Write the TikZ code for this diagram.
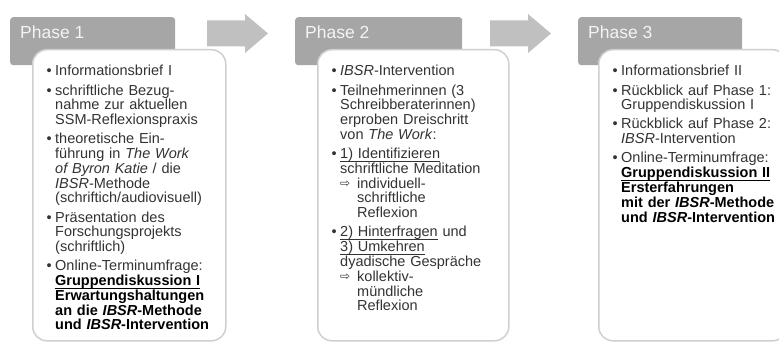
\documentclass[tikz,border=0pt]{standalone}
\usepackage{fontspec}
\setmainfont{Liberation Sans}
\newfontfamily\symbolfont{DejaVu Sans}

\definecolor{headgrey}{HTML}{A6A6A6}
\definecolor{arrowgrey}{HTML}{C0C0C0}
\definecolor{framegrey}{HTML}{CFCFCF}
\definecolor{bodytext}{HTML}{333333}
\definecolor{headtext}{HTML}{F4F4F4}

% bullet hung to the left of the item text
\newcommand\itm{\leavevmode\llap{•\hspace{3.5pt}}}
% sub-item arrow with its own indent
\newcommand\subarrow{\leavevmode\makebox[17pt][l]{\symbolfont\fontsize{12}{12}\selectfont\raisebox{0.3pt}{⇨}}}
\newcommand\subind{\leavevmode\hspace*{17pt}}
\newcommand\gap{\\[4.3pt]}
% underline at a fixed distance below the baseline
\newsavebox\ulbox
\newcommand\ulin[2][0.7pt]{\leavevmode\sbox\ulbox{#2}\rlap{\rule[-3pt]{\wd\ulbox}{#1}}\usebox\ulbox}

\tikzset{
  header/.style={fill=headgrey, rounded corners=3pt, inner sep=0pt, anchor=north west},
  phasetitle/.style={text=headtext, font=\fontsize{17.5}{17.5}\selectfont, inner sep=0pt, anchor=base west},
  panel/.style={draw=framegrey, line width=1.5pt, fill=white, rounded corners=14pt, inner sep=0pt, anchor=north west},
  panetext/.style={text=bodytext, font=\fontsize{14.5}{14.8}\selectfont, text width=200pt, align=left, inner sep=0pt, anchor=base west},
  blockarrow/.style={fill=arrowgrey}
}

\begin{document}
\begin{tikzpicture}[x=1pt, y=-1pt]
  \clip (0,0) rectangle (779,342);
  \useasboundingbox (0,0) rectangle (779,342);

  % ---- block arrows between the phases
  \coordinate (arrA) at (207,32.5);
  \coordinate (arrB) at (490,32.5);
  \foreach \a in {arrA, arrB}{
    \fill[blockarrow] (\a) ++(0,-12) -- ++(38,0) -- ++(0,-6.5) -- ++(23,19.5)
      -- ++(-23,19.5) -- ++(0,-6.5) -- ++(-38,0) -- cycle;
  }

  % ---- phase headers
  \node[header, minimum width=165pt, minimum height=48pt] (h1) at (10,17) {};
  \node[header, minimum width=167pt, minimum height=48pt] (h2) at (295,17) {};
  \node[header, minimum width=164pt, minimum height=48pt] (h3) at (578,17) {};
  \node[phasetitle] (t1) at (20,39) {Phase 1};
  \node[phasetitle] (t2) at (305,39) {Phase 2};
  \node[phasetitle] (t3) at (588,39) {Phase 3};

  % ---- content panels
  \node[panel, minimum width=193pt, minimum height=291pt] (b1) at (32,49) {};
  \node[panel, minimum width=191pt, minimum height=291pt] (b2) at (317,49) {};
  \node[panel, minimum width=188pt, minimum height=291pt] (b3) at (598,49) {};

  % ---- phase 1 content
  \node[panetext] (c1) at (55,76) {%
    \itm Informationsbrief I\gap
    \itm schriftliche Bezug-\\
    nahme zur aktuellen\\
    SSM-Reflexionspraxis\gap
    \itm theoretische Ein-\\
    führung in \textit{The Work}\\
    \textit{of Byron Katie} / die\\
    \textit{IBSR}-Methode\\
    (schriftich/audiovisuell)\gap
    \itm Präsentation des\\
    Forschungsprojekts\\
    (schriftlich)\gap
    \itm Online-Terminumfrage:\\
    \leavevmode\color{black}\ulin[0.9pt]{\textbf{Gruppendiskussion I}}\\
    \textbf{Erwartungshaltungen}\\
    \textbf{an die \textit{IBSR}-Methode}\\
    \textbf{und \textit{IBSR}-Intervention}};

  % ---- phase 2 content
  \node[panetext] (c2) at (340,76) {%
    \itm \textit{IBSR}-Intervention\gap
    \itm Teilnehmerinnen (3\\
    Schreibberaterinnen)\\
    erproben Dreischritt\\
    von \textit{The Work}:\gap
    \itm \ulin{1) Identifizieren}\\
    schriftliche Meditation\\
    \subarrow individuell-\\
    \subind schriftliche\\
    \subind Reflexion\gap
    \itm \ulin{2) Hinterfragen} und\\
    \ulin{3) Umkehren}\\
    dyadische Gespräche\\
    \subarrow kollektiv-\\
    \subind mündliche\\
    \subind Reflexion};

  % ---- phase 3 content
  \node[panetext] (c3) at (621,76) {%
    \itm Informationsbrief II\gap
    \itm Rückblick auf Phase 1:\\
    Gruppendiskussion I\gap
    \itm Rückblick auf Phase 2:\\
    \textit{IBSR}-Intervention\gap
    \itm Online-Terminumfrage:\\
    \leavevmode\color{black}\ulin[0.9pt]{\textbf{Gruppendiskussion II}}\\
    \textbf{Ersterfahrungen}\\
    \textbf{mit der \textit{IBSR}-Methode}\\
    \textbf{und \textit{IBSR}-Intervention}};
\end{tikzpicture}
\end{document}
